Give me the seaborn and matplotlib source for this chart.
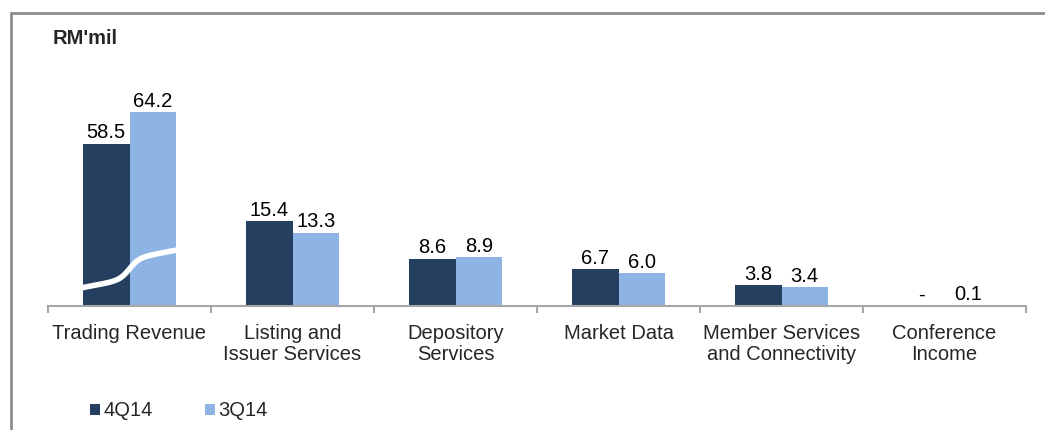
import numpy as np
import pandas as pd
import matplotlib
matplotlib.use("Agg")
import matplotlib.pyplot as plt
from matplotlib.lines import Line2D
import seaborn as sns

# Data
categories = ["Trading Revenue", "Listing and\nIssuer Services", "Depository\nServices",
              "Market Data", "Member Services\nand Connectivity", "Conference\nIncome"]
q4_values = [58.5, 15.4, 8.6, 6.7, 3.8, 0.0]
q3_values = [64.2, 13.3, 8.9, 6.0, 3.4, 0.1]
q4_labels = ["58.5", "15.4", "8.6", "6.7", "3.8", "-"]
q3_labels = ["64.2", "13.3", "8.9", "6.0", "3.4", "0.1"]
series = ["4Q14", "3Q14"]

# the first group is drawn with a broken axis
break_cut = 29.0

sns.set_style("white")
plt.rcParams["font.family"] = ["Liberation Sans", "DejaVu Sans"]
FS = 14.5

rows = []
for i, cat in enumerate(categories):
    for s, vals, labs in [(series[0], q4_values, q4_labels), (series[1], q3_values, q3_labels)]:
        shown = vals[i] - break_cut if i == 0 else vals[i]
        rows.append({"category": cat, "period": s, "value": vals[i], "shown": shown, "label": labs[i]})
df = pd.DataFrame(rows)

dark = "#243F60"
light = "#8EB4E3"

fig = plt.figure(figsize=(10.45, 4.3), dpi=100)
ax = fig.add_axes([48 / 1045, 1 - 306 / 430, (1026 - 48) / 1045, (306 - 60) / 430])

sns.barplot(data=df, x="category", y="shown", hue="period", palette=[dark, light],
            width=0.57, ax=ax, saturation=1, legend=True, linewidth=0)

ax.set_ylim(0, 246 / 5.5)
ax.set_xlim(-0.5, len(categories) - 0.5)

# value labels
for cont, (_, grp) in zip(ax.containers, df.groupby("period", sort=False)):
    for bar, lab in zip(cont, grp["label"]):
        ax.annotate(lab, (bar.get_x() + bar.get_width() / 2, bar.get_height()),
                    xytext=(0, 1.0), textcoords="offset points",
                    ha="center", va="bottom", fontsize=FS, color="#000000")

# break mark across the first group
b0 = ax.containers[0][0]
b1 = ax.containers[1][0]
xs = np.linspace(b0.get_x() - 0.02, b1.get_x() + b1.get_width(), 200)
xc = b1.get_x()
ys = 6.75 + 1.8 * np.tanh((xs - xc) / 0.06) + 5.6 * (xs - xc)
ax.plot(xs, ys, color="white", lw=4, solid_capstyle="round", zorder=5)

# axes styling
for side in ["top", "right", "left"]:
    ax.spines[side].set_visible(False)
ax.spines["bottom"].set_color("#A6A6A6")
ax.spines["bottom"].set_linewidth(1.5)
ax.set_yticks([])
ax.set_xlabel("")
ax.set_ylabel("")
ax.set_xticks(range(len(categories)))
ax.set_xticklabels(categories, fontsize=FS, linespacing=1.1)
ax.set_xticks(np.arange(-0.5, len(categories)), minor=True)
ax.tick_params(axis="x", which="major", length=0, pad=13)
ax.tick_params(axis="x", which="minor", length=5, width=1.5, color="#A6A6A6", direction="out", bottom=True)

# legend
handles, labels = ax.get_legend_handles_labels()
ax.legend(handles, labels, loc="center left", bbox_to_anchor=(72 / 1045, 1 - 411 / 430),
          bbox_transform=fig.transFigure, ncol=2, frameon=False, fontsize=FS,
          handlelength=0.5, handleheight=0.5, handletextpad=0.15, columnspacing=2.6)

fig.text(53 / 1045, 1 - 38 / 430, "RM'mil", fontsize=FS, fontweight="bold", va="center", ha="left")

# outer frame
fig.add_artist(Line2D([11 / 1045, 1.0], [1 - 13 / 430, 1 - 13 / 430], transform=fig.transFigure,
                      color="#8C8C8C", lw=2))
fig.add_artist(Line2D([11 / 1045, 11 / 1045], [0, 1 - 13 / 430], transform=fig.transFigure,
                      color="#8C8C8C", lw=2))

fig.savefig("out.png", dpi=100)
